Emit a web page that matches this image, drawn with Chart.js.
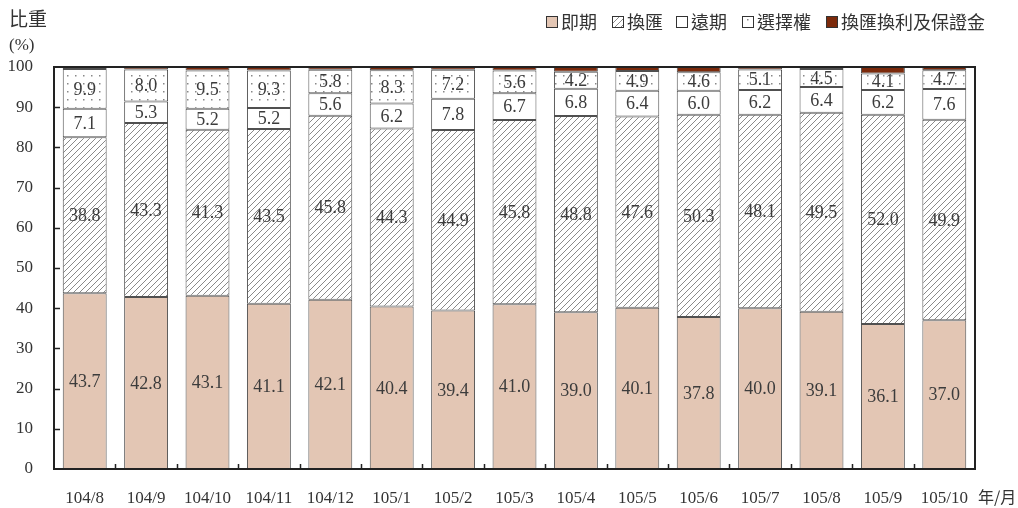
<!DOCTYPE html>
<html lang="zh-Hant">
<head>
    <meta charset="UTF-8">
    <title>外匯交易比重</title>
    <script src="https://cdn.jsdelivr.net/npm/chart.js"></script>
    <style>
        html, body { margin: 0; padding: 0; background: #fff; }
        .wrap { width: 1018px; height: 508px; position: relative; }
    </style>
</head>
<body>
    <div class="wrap">
        <canvas id="shareChart"></canvas>
    </div>
    <script>
        // 年/月
        const categories = ['104/8', '104/9', '104/10', '104/11', '104/12', '105/1', '105/2', '105/3',
            '105/4', '105/5', '105/6', '105/7', '105/8', '105/9', '105/10'];
        const seriesNames = ['即期', '換匯', '遠期', '選擇權', '換匯換利及保證金'];
        const spot = [43.7, 42.8, 43.1, 41.1, 42.1, 40.4, 39.4, 41.0, 39.0, 40.1, 37.8, 40.0, 39.1, 36.1, 37.0];
        const swap = [38.8, 43.3, 41.3, 43.5, 45.8, 44.3, 44.9, 45.8, 48.8, 47.6, 50.3, 48.1, 49.5, 52.0, 49.9];
        const forward = [7.1, 5.3, 5.2, 5.2, 5.6, 6.2, 7.8, 6.7, 6.8, 6.4, 6.0, 6.2, 6.4, 6.2, 7.6];
        const options = [9.9, 8.0, 9.5, 9.3, 5.8, 8.3, 7.2, 5.6, 4.2, 4.9, 4.6, 5.1, 4.5, 4.1, 4.7];
        const ccs = [0.3, 0.6, 0.9, 0.9, 0.7, 0.8, 0.7, 0.9, 1.2, 1.0, 1.3, 0.6, 0.5, 1.6, 0.8];
        const yTicks = [0, 10, 20, 30, 40, 50, 60, 70, 80, 90, 100];

        const serif = '"Liberation Serif", "DejaVu Serif", serif';
        const cjk = '"Noto Sans CJK TC", "Noto Sans CJK SC", sans-serif';

        // 斜線底紋
        function hatchPattern() {
            const c = document.createElement('canvas');
            c.width = 6; c.height = 6;
            const g = c.getContext('2d');
            g.fillStyle = '#fff';
            g.fillRect(0, 0, 6, 6);
            g.strokeStyle = '#8a8a8a';
            g.lineWidth = 1;
            g.beginPath();
            g.moveTo(-1, 7); g.lineTo(7, -1);
            g.moveTo(-1, 1); g.lineTo(1, -1);
            g.moveTo(5, 7); g.lineTo(7, 5);
            g.stroke();
            return g.createPattern(c, 'repeat');
        }

        // 點狀底紋
        function dotPattern() {
            const c = document.createElement('canvas');
            c.width = 8; c.height = 8;
            const g = c.getContext('2d');
            g.fillStyle = '#fff';
            g.fillRect(0, 0, 8, 8);
            g.fillStyle = '#888';
            g.fillRect(3, 3, 1.5, 1.5);
            return g.createPattern(c, 'repeat');
        }

        const fills = ['#e3c6b4', hatchPattern(), '#ffffff', dotPattern(), '#7c2a0b'];
        const seriesData = [spot, swap, forward, options, ccs];

        const datasets = seriesData.map((d, i) => ({
            label: seriesNames[i],
            data: d,
            backgroundColor: fills[i],
            borderColor: '#505050',
            borderWidth: 1,
            borderSkipped: false,
            barPercentage: 0.715,
            categoryPercentage: 1.0,
        }));

        // 區段數值、外框、刻度、圖例與軸標題
        const decorPlugin = {
            id: 'decor',
            afterDatasetsDraw(chart) {
                const ctx = chart.ctx;
                const area = chart.chartArea;
                const xs = chart.scales.x;
                const ys = chart.scales.y;
                ctx.save();

                // 數值標籤
                ctx.font = '18px ' + serif;
                ctx.fillStyle = '#3c3c3c';
                ctx.textAlign = 'center';
                ctx.textBaseline = 'middle';
                for (let s = 0; s < 4; s++) {
                    const meta = chart.getDatasetMeta(s);
                    meta.data.forEach((bar, i) => {
                        const y = (bar.y + bar.base) / 2;
                        ctx.fillText(seriesData[s][i].toFixed(1), bar.x, y + 1);
                    });
                }

                // 外框
                ctx.strokeStyle = '#222';
                ctx.lineWidth = 2;
                ctx.strokeRect(area.left, area.top, area.right - area.left, area.bottom - area.top);

                // 內向刻度
                ctx.lineWidth = 1.5;
                ctx.beginPath();
                yTicks.slice(1, -1).forEach(v => {
                    const y = Math.round(ys.getPixelForValue(v)) + 0.5;
                    ctx.moveTo(area.left, y);
                    ctx.lineTo(area.left + 6, y);
                });
                for (let i = 1; i < categories.length; i++) {
                    const x = Math.round((xs.getPixelForValue(i - 1) + xs.getPixelForValue(i)) / 2) + 0.5;
                    ctx.moveTo(x, area.bottom);
                    ctx.lineTo(x, area.bottom - 5);
                }
                ctx.stroke();
                ctx.restore();
            },
            afterDraw(chart) {
                const ctx = chart.ctx;
                ctx.save();
                ctx.fillStyle = '#333';
                ctx.textBaseline = 'middle';
                ctx.textAlign = 'left';

                // 圖例
                const boxX = [546, 612, 676, 742, 826];
                seriesNames.forEach((name, i) => {
                    ctx.fillStyle = fills[i];
                    ctx.fillRect(boxX[i], 16, 12, 12);
                    ctx.strokeStyle = '#333';
                    ctx.lineWidth = 1;
                    ctx.strokeRect(boxX[i] + 0.5, 16.5, 11, 11);
                    ctx.fillStyle = '#333';
                    ctx.font = '18px ' + cjk;
                    ctx.fillText(name, boxX[i] + 15, 22);
                });

                // 軸標題
                ctx.font = '19px ' + cjk;
                ctx.fillText('比重', 9, 19);
                ctx.font = '17px ' + serif;
                ctx.fillText('(%)', 9, 46);
                ctx.font = '16px ' + cjk;
                ctx.fillText('年/月', 978, 497);
                ctx.restore();
            }
        };

        const config = {
            type: 'bar',
            data: { labels: categories, datasets: datasets },
            options: {
                responsive: true,
                maintainAspectRatio: false,
                animation: false,
                layout: { padding: { top: 67, right: 43, bottom: 0, left: 0 } },
                scales: {
                    x: {
                        stacked: true,
                        grid: { display: false, drawTicks: false },
                        border: { display: false },
                        ticks: {
                            color: '#333',
                            font: { family: serif, size: 17 },
                            padding: 19,
                            maxRotation: 0,
                            autoSkip: false,
                        },
                        afterFit(scale) { scale.height = 39; }
                    },
                    y: {
                        stacked: true,
                        min: 0,
                        max: 100,
                        grid: { display: false, drawTicks: false },
                        border: { display: false },
                        afterBuildTicks(scale) {
                            scale.ticks = yTicks.map(v => ({ value: v }));
                        },
                        ticks: {
                            color: '#333',
                            font: { family: serif, size: 17 },
                            padding: 21,
                        },
                        afterFit(scale) { scale.width = 54; }
                    }
                },
                plugins: {
                    legend: { display: false },
                    tooltip: { enabled: false },
                    title: { display: false }
                }
            },
            plugins: [decorPlugin]
        };

        const shareChart = new Chart(document.getElementById('shareChart'), config);
    </script>
</body>
</html>
